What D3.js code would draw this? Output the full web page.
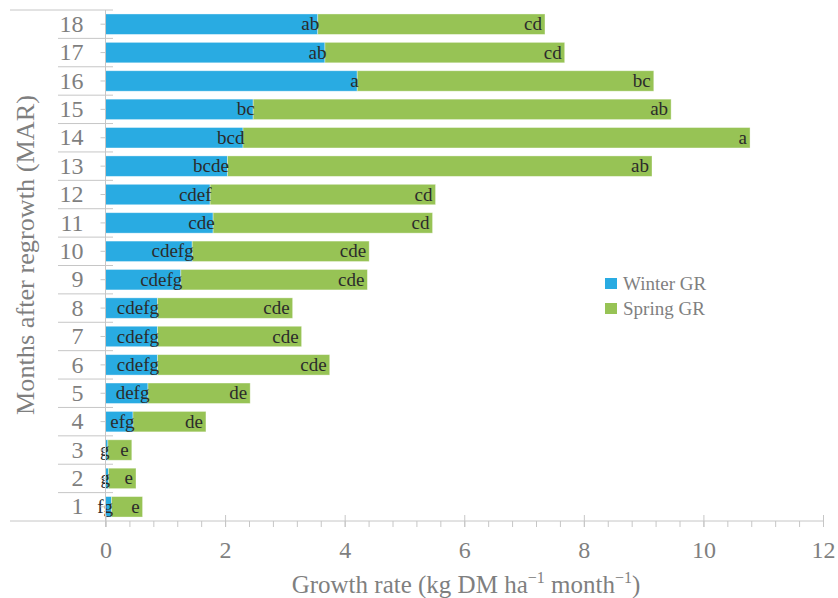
<!DOCTYPE html>
<html>
<head>
<meta charset="utf-8">
<script src="https://cdn.jsdelivr.net/npm/d3@7"></script>
<style>
  html, body { margin: 0; padding: 0; background: #fff; }
  svg { display: block; }
</style>
</head>
<body>
<svg id="chart" width="838" height="598" font-family="Liberation Serif"></svg>
<script>
// Months after regrowth, top to bottom
const months = [18, 17, 16, 15, 14, 13, 12, 11, 10, 9, 8, 7, 6, 5, 4, 3, 2, 1];
// Winter growth rate (kg DM ha-1 month-1)
const winterGR = [3.55, 3.67, 4.21, 2.47, 2.30, 2.04, 1.75, 1.80, 1.45, 1.26, 0.87, 0.87, 0.87, 0.71, 0.46, 0.04, 0.05, 0.10];
// Spring growth rate, stacked after winter
const springGR = [3.80, 4.01, 4.96, 6.99, 8.48, 7.10, 3.77, 3.67, 2.96, 3.12, 2.26, 2.41, 2.88, 1.71, 1.22, 0.40, 0.46, 0.52];
// Significance letters
const winterLetters = ["ab", "ab", "a", "bc", "bcd", "bcde", "cdef", "cde", "cdefg", "cdefg", "cdefg", "cdefg", "cdefg", "defg", "efg", "g", "g", "fg"];
const springLetters = ["cd", "cd", "bc", "ab", "a", "ab", "cd", "cd", "cde", "cde", "cde", "cde", "cde", "de", "de", "e", "e", "e"];
const xTicks = [0, 2, 4, 6, 8, 10, 12];
const seriesNames = ["Winter GR", "Spring GR"];
const colors = ["#29abe2", "#97c355"];

const rows = months.map((m, i) => ({
  month: m,
  winter: winterGR[i],
  spring: springGR[i],
  wl: winterLetters[i],
  sl: springLetters[i]
}));

const svg = d3.select("#chart");
const axisColor = "#c6c6c6";
const tickText = "#7f7f7f";

const x = d3.scaleLinear().domain([0, 12]).range([105.5, 823]);
const y = d3.scaleBand().domain(months).range([10, 521]).paddingInner(0.28).paddingOuter(0.14);

const layers = d3.stack().keys(["winter", "spring"])(rows);

// Stacked bars
svg.append("g").selectAll("g")
  .data(layers)
  .join("g")
  .attr("fill", (d, i) => colors[i])
  .selectAll("rect")
  .data(d => d)
  .join("rect")
  .attr("x", d => x(d[0]))
  .attr("y", d => y(d.data.month))
  .attr("width", d => x(d[1]) - x(d[0]))
  .attr("height", y.bandwidth())
  .attr("stroke", "rgba(255,255,255,0.45)")
  .attr("stroke-width", 0.8);

// Letters at the end of each segment
const labels = svg.append("g")
  .attr("fill", "#2b2b2b")
  .attr("font-size", 19)
  .attr("text-anchor", "end");

labels.selectAll("text.w")
  .data(rows)
  .join("text")
  .attr("class", "w")
  .attr("x", d => x(d.winter) + 1.5)
  .attr("y", d => y(d.month) + y.bandwidth() / 2)
  .attr("dy", "0.32em")
  .text(d => d.wl);

labels.selectAll("text.s")
  .data(rows)
  .join("text")
  .attr("class", "s")
  .attr("x", d => x(d.winter + d.spring) - 3)
  .attr("y", d => y(d.month) + y.bandwidth() / 2)
  .attr("dy", "0.32em")
  .text(d => d.sl);

// Y axis: category labels with short centre ticks
const yAxis = svg.append("g")
  .attr("transform", `translate(${x(0)},0)`)
  .call(d3.axisLeft(y).tickSize(5).tickPadding(17));
yAxis.attr("font-family", null).attr("font-size", 24);
yAxis.select(".domain").remove();
yAxis.selectAll(".tick line").attr("stroke", axisColor);
yAxis.selectAll(".tick text").attr("fill", tickText);

// Vertical axis line
svg.append("line")
  .attr("x1", x(0)).attr("x2", x(0))
  .attr("y1", 10).attr("y2", 527)
  .attr("stroke", axisColor);

// Category separators
const bounds = months.map(m => y(m) - y.step() * y.paddingInner() / 2);
svg.append("g").selectAll("line")
  .data(bounds)
  .join("line")
  .attr("x1", (d, i) => i === 0 ? 10 : 58)
  .attr("x2", 113)
  .attr("y1", d => d).attr("y2", d => d)
  .attr("stroke", axisColor);

// X axis with minor ticks
const xAxis = svg.append("g")
  .attr("transform", "translate(0,521)")
  .call(d3.axisBottom(x).tickValues(xTicks).tickSize(6).tickPadding(14).tickFormat(d3.format("d")));
xAxis.attr("font-family", null).attr("font-size", 24);
xAxis.select(".domain").remove();
xAxis.selectAll(".tick line").attr("stroke", axisColor).attr("y1", -6);
xAxis.selectAll(".tick text").attr("fill", tickText);

const minor = svg.append("g")
  .attr("transform", "translate(0,521)")
  .call(d3.axisBottom(x).tickValues(d3.range(0, 12.001, 0.4)).tickSize(6).tickFormat(""));
minor.select(".domain").remove();
minor.selectAll(".tick line").attr("stroke", axisColor);

svg.append("line")
  .attr("x1", 10).attr("x2", x(12))
  .attr("y1", 521).attr("y2", 521)
  .attr("stroke", axisColor);

// Axis titles
const xt = svg.append("text")
  .attr("x", 466).attr("y", 593)
  .attr("text-anchor", "middle")
  .attr("font-size", 25)
  .attr("fill", tickText);
xt.append("tspan").text("Growth rate (kg DM ha");
xt.append("tspan").attr("font-size", 16).attr("dy", -10).text("\u22121");
xt.append("tspan").attr("dy", 10).text(" month");
xt.append("tspan").attr("font-size", 16).attr("dy", -10).text("\u22121");
xt.append("tspan").attr("dy", 10).text(")");

svg.append("text")
  .attr("transform", "translate(34,255) rotate(-90)")
  .attr("text-anchor", "middle")
  .attr("font-size", 25)
  .attr("textLength", 320)
  .attr("lengthAdjust", "spacingAndGlyphs")
  .attr("fill", tickText)
  .text("Months after regrowth (MAR)");

// Legend
const legend = svg.append("g").attr("transform", "translate(605,278)");
seriesNames.forEach((name, i) => {
  const g = legend.append("g").attr("transform", `translate(0,${i * 25})`);
  g.append("rect").attr("width", 12).attr("height", 11).attr("fill", colors[i]);
  g.append("text")
    .attr("x", 18).attr("y", 5.5).attr("dy", "0.35em")
    .attr("font-size", 19)
    .attr("fill", tickText)
    .text(name);
});
</script>
</body>
</html>
